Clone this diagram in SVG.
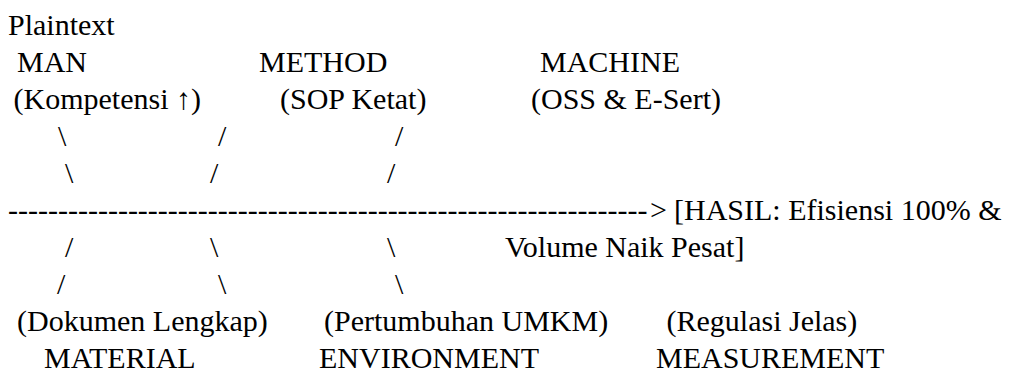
<svg xmlns="http://www.w3.org/2000/svg" width="1025" height="370" viewBox="0 0 1025 370">
<rect width="1025" height="370" fill="#fff"/>
<text x="8" y="35" font-family="Times New Roman, Liberation Serif, serif" font-size="30">Plaintext</text>
<g id="man">
<text x="17" y="72" font-family="Times New Roman, Liberation Serif, serif" font-size="30">MAN</text>
<text x="13.5" y="109" font-family="Times New Roman, Liberation Serif, serif" font-size="30">(Kompetensi ↑)</text>
</g>
<g id="method">
<text x="259" y="72" font-family="Times New Roman, Liberation Serif, serif" font-size="30">METHOD</text>
<text x="280" y="109" font-family="Times New Roman, Liberation Serif, serif" font-size="30">(SOP Ketat)</text>
</g>
<g id="machine">
<text x="540" y="72" font-family="Times New Roman, Liberation Serif, serif" font-size="30">MACHINE</text>
<text x="531" y="109" font-family="Times New Roman, Liberation Serif, serif" font-size="30">(OSS &amp; E-Sert)</text>
</g>
<g id="connectors">
<text x="58" y="146" font-family="Times New Roman, Liberation Serif, serif" font-size="30">\</text>
<text x="218" y="146" font-family="Times New Roman, Liberation Serif, serif" font-size="30">/</text>
<text x="395" y="146" font-family="Times New Roman, Liberation Serif, serif" font-size="30">/</text>
<text x="65" y="183" font-family="Times New Roman, Liberation Serif, serif" font-size="30">\</text>
<text x="210" y="183" font-family="Times New Roman, Liberation Serif, serif" font-size="30">/</text>
<text x="387" y="183" font-family="Times New Roman, Liberation Serif, serif" font-size="30">/</text>
<text x="8" y="220" font-family="Times New Roman, Liberation Serif, serif" font-size="30">----------------------------------------------------------------</text>
<text x="650" y="220" font-family="Times New Roman, Liberation Serif, serif" font-size="30">&gt;</text>
<text x="65" y="257" font-family="Times New Roman, Liberation Serif, serif" font-size="30">/</text>
<text x="210" y="257" font-family="Times New Roman, Liberation Serif, serif" font-size="30">\</text>
<text x="387" y="257" font-family="Times New Roman, Liberation Serif, serif" font-size="30">\</text>
<text x="57" y="294" font-family="Times New Roman, Liberation Serif, serif" font-size="30">/</text>
<text x="218" y="294" font-family="Times New Roman, Liberation Serif, serif" font-size="30">\</text>
<text x="395" y="294" font-family="Times New Roman, Liberation Serif, serif" font-size="30">\</text>
</g>
<g id="hasil">
<text x="674" y="220" font-family="Times New Roman, Liberation Serif, serif" font-size="30">[HASIL: Efisiensi 100% &amp;</text>
<text x="505" y="257" font-family="Times New Roman, Liberation Serif, serif" font-size="30">Volume Naik Pesat]</text>
</g>
<g id="material">
<text x="17" y="331" font-family="Times New Roman, Liberation Serif, serif" font-size="30">(Dokumen Lengkap)</text>
<text x="44" y="368" font-family="Times New Roman, Liberation Serif, serif" font-size="30">MATERIAL</text>
</g>
<g id="environment">
<text x="324" y="331" font-family="Times New Roman, Liberation Serif, serif" font-size="30">(Pertumbuhan UMKM)</text>
<text x="319" y="368" font-family="Times New Roman, Liberation Serif, serif" font-size="30">ENVIRONMENT</text>
</g>
<g id="measurement">
<text x="666.5" y="331" font-family="Times New Roman, Liberation Serif, serif" font-size="30">(Regulasi Jelas)</text>
<text x="656" y="368" font-family="Times New Roman, Liberation Serif, serif" font-size="30">MEASUREMENT</text>
</g>
</svg>
